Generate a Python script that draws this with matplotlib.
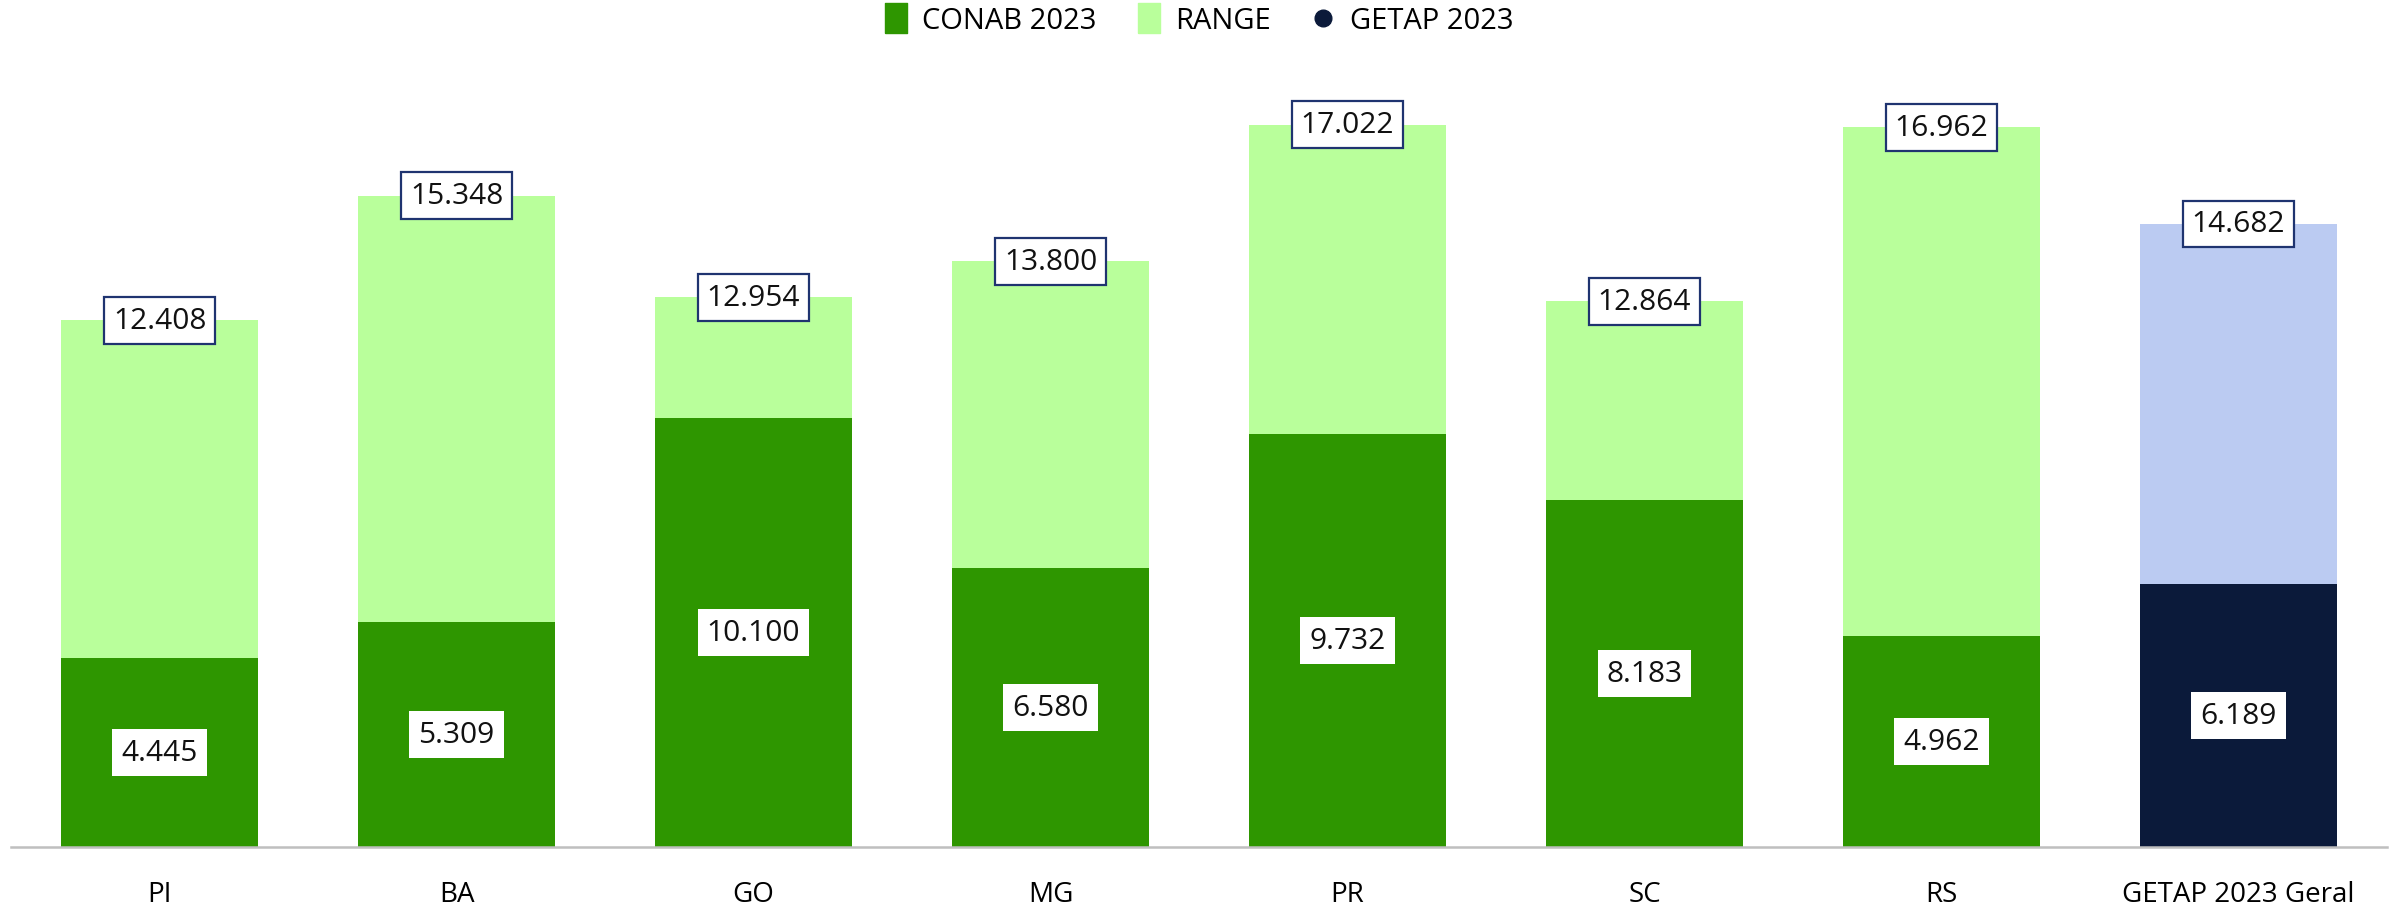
import matplotlib
matplotlib.use("Agg")
import matplotlib.pyplot as plt
from matplotlib.lines import Line2D

categories = ["PI", "BA", "GO", "MG", "PR", "SC", "RS", "GETAP 2023 Geral"]
conab = [4.445, 5.309, 10.100, 6.580, 9.732, 8.183, 4.962, 6.189]
top = [12.408, 15.348, 12.954, 13.800, 17.022, 12.864, 16.962, 14.682]
labels_low = ["4.445", "5.309", "10.100", "6.580", "9.732", "8.183", "4.962", "6.189"]
labels_top = ["12.408", "15.348", "12.954", "13.800", "17.022", "12.864", "16.962", "14.682"]

dark_green = "#2E9600"
light_green = "#B9FF9B"
navy = "#0B1A3A"
light_blue = "#BBCBF2"

plt.rcParams["font.family"] = ["Open Sans", "DejaVu Sans"]

fig = plt.figure(figsize=(23.97, 9.12), dpi=100)
ax = fig.add_axes([0.0046, 0.0702, 0.9912, 0.884])

x = list(range(len(categories)))
low_colors = [dark_green] * 7 + [navy]
rng_colors = [light_green] * 7 + [light_blue]
rng = [t - c for t, c in zip(top, conab)]

ax.bar(x, conab, width=0.663, color=low_colors)
ax.bar(x, rng, bottom=conab, width=0.663, color=rng_colors)

for i in x:
    ax.text(i, conab[i] / 2, labels_low[i], ha="center", va="center", fontsize=21.5,
            color="#111111",
            bbox=dict(boxstyle="square,pad=0.3", facecolor="white", edgecolor="none"))
    ax.text(i, top[i], labels_top[i], ha="center", va="center", fontsize=21.5,
            color="#111111",
            bbox=dict(boxstyle="square,pad=0.3", facecolor="white", edgecolor="#1F3470",
                      linewidth=1.6))

ax.set_xlim(-0.5, 7.5)
ax.set_ylim(0, 19)
ax.set_xticks(x)
ax.set_xticklabels(categories, fontsize=20)
ax.tick_params(axis="x", length=0, pad=24)
ax.set_yticks([])
for s in ["top", "left", "right"]:
    ax.spines[s].set_visible(False)
ax.spines["bottom"].set_color("#BFBFBF")
ax.spines["bottom"].set_linewidth(1.8)

# slightly tall legend markers, like the original
rect = [(-0.75, -1), (0.75, -1), (0.75, 1), (-0.75, 1), (-0.75, -1)]
handles = [
    Line2D([], [], marker=rect, linestyle="none", markersize=21, color=dark_green),
    Line2D([], [], marker=rect, linestyle="none", markersize=21, color=light_green),
    Line2D([], [], marker="o", linestyle="none", markersize=12, color=navy),
]
fig.legend(handles, ["CONAB 2023", "RANGE", "GETAP 2023"], loc="center",
           bbox_to_anchor=(0.5, 0.976), ncol=3, frameon=False, fontsize=21,
           handlelength=0.8, handletextpad=0.5, columnspacing=1.4)

fig.savefig("out.png", dpi=100)
